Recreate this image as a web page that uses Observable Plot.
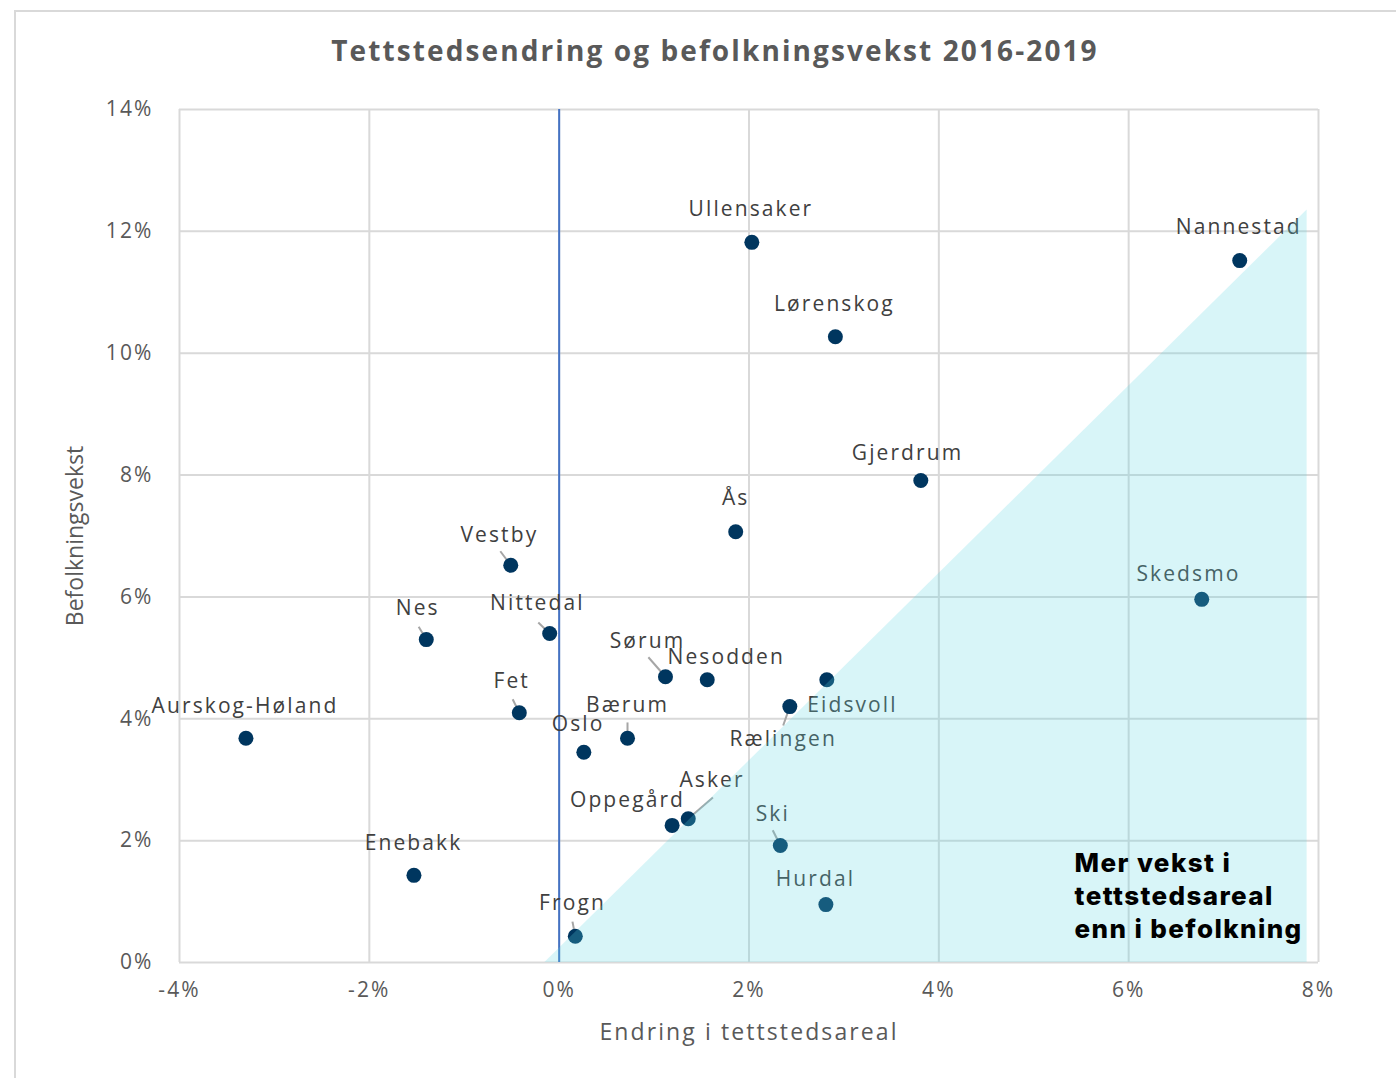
<!DOCTYPE html>
<html>
<head>
<meta charset="utf-8">
<script src="https://cdn.jsdelivr.net/npm/d3@7"></script>
<script src="https://cdn.jsdelivr.net/npm/@observablehq/plot@0.6"></script>
<style>
  html, body { margin: 0; padding: 0; background: #fff; overflow: hidden; width: 1396px; height: 1078px; }
  body { position: relative; font-family: "Open Sans", sans-serif; }
  #frame { position: absolute; left: 14px; top: 10px; width: 1500px; height: 1200px; border: 2px solid #d9d9d9; box-sizing: border-box; }
  #title { position: absolute; left: 0; width: 1430px; top: 32px; text-align: center; font-size: 28px; font-weight: 700; color: #595959; line-height: 36px; letter-spacing: 2.1px; }
  #chart { position: absolute; left: 0; top: 80px; }
  #chart svg text { letter-spacing: 2.1px; }
  #chart svg g[font-family^="Inter"] text { letter-spacing: 1.4px; }
  #chart svg text[transform*="rotate"], #chart svg g[transform*="rotate"] text { letter-spacing: 0px; }
</style>
</head>
<body>
<div id="frame"></div>
<div id="title">Tettstedsendring og befolkningsvekst 2016-2019</div>
<div id="chart"></div>
<script>
// Municipalities
const names = ["Ullensaker","Nannestad","Lørenskog","Gjerdrum","Ås","Skedsmo","Vestby","Nes","Nittedal","Sørum","Nesodden","Eidsvoll","Rælingen","Fet","Aurskog-Høland","Bærum","Oslo","Asker","Oppegård","Ski","Enebakk","Hurdal","Frogn"];
// Endring i tettstedsareal (%)
const endring = [2.03, 7.17, 2.91, 3.81, 1.86, 6.77, -0.51, -1.40, -0.10, 1.12, 1.56, 2.82, 2.43, -0.42, -3.30, 0.72, 0.26, 1.36, 1.19, 2.33, -1.53, 2.81, 0.17];
// Befolkningsvekst (%)
const vekst = [11.82, 11.52, 10.27, 7.91, 7.07, 5.96, 6.52, 5.30, 5.40, 4.69, 4.64, 4.64, 4.20, 4.10, 3.68, 3.68, 3.45, 2.36, 2.25, 1.92, 1.43, 0.95, 0.43];
// Label anchor positions in data units
const labelX = [2.02, 7.16, 2.90, 3.67, 1.86, 6.63, -0.63, -1.49, -0.23, 0.93, 1.76, 3.09, 2.36, -0.50, -3.31, 0.72, 0.20, 1.61, 0.72, 2.25, -1.535, 2.70, 0.14];
const labelY = [12.36, 12.06, 10.80, 8.35, 7.62, 6.37, 7.02, 5.81, 5.89, 5.28, 5.01, 4.23, 3.66, 4.61, 4.20, 4.22, 3.91, 2.99, 2.66, 2.43, 1.95, 1.36, 0.97];
// Leader lines (start of line near the label, data units)
const leaderNames = ["Vestby","Nes","Nittedal","Sørum","Rælingen","Fet","Bærum","Asker","Ski","Frogn"];
const leaderX = [-0.62, -1.48, -0.22, 0.94, 2.36, -0.49, 0.72, 1.62, 2.25, 0.14];
const leaderY = [6.75, 5.51, 5.58, 5.01, 3.89, 4.32, 3.94, 2.71, 2.17, 0.67];
// Shaded region (more growth in area than population)
const shadeX = [-0.15, 7.88];
const shadeY = [0, 12.35];
// Ticks
const xTicks = [-4, -2, 0, 2, 4, 6, 8];
const yTicks = [0, 2, 4, 6, 8, 10, 12, 14];
const noteText = "Mer vekst i\ntettstedsareal\nenn i befolkning";
const noteX = 5.43, noteY = 1.88;

const points = names.map((n, i) => ({name: n, x: endring[i], y: vekst[i], lx: labelX[i], ly: labelY[i]}));
const leaders = leaderNames.map((n, i) => {
  const p = points.find(d => d.name === n);
  return {name: n, x1: leaderX[i], y1: leaderY[i], x2: p.x, y2: p.y};
});
const shade = shadeX.map((x, i) => ({x, y: shadeY[i]}));

const chart = Plot.plot({
  width: 1396,
  height: 998,
  marginLeft: 179,
  marginRight: 78,
  marginTop: 29,
  marginBottom: 116,
  style: {fontFamily: "Open Sans, sans-serif", background: "transparent", overflow: "visible"},
  x: {domain: [-4, 8]},
  y: {domain: [0, 14]},
  marks: [
    Plot.gridX(xTicks, {stroke: "#d9d9d9", strokeOpacity: 1, strokeWidth: 2}),
    Plot.gridY(yTicks, {stroke: "#d9d9d9", strokeOpacity: 1, strokeWidth: 2}),
    Plot.axisX(xTicks, {tickFormat: d => d + "%", tickSize: 0, tickPadding: 20, fontSize: 21, color: "#595959", label: null}),
    Plot.axisY(yTicks, {tickFormat: d => d + "%", tickSize: 0, tickPadding: 26, fontSize: 21, color: "#595959", label: null}),
    Plot.text(["Endring i tettstedsareal"], {frameAnchor: "bottom", dy: 77, textAnchor: "middle", fontSize: 23, fill: "#595959"}),
    Plot.text(["Befolkningsvekst"], {frameAnchor: "left", dx: -104, rotate: -90, textAnchor: "middle", fontSize: 23, fill: "#595959"}),
    Plot.ruleX([0], {stroke: "#4472c4", strokeWidth: 2}),
    Plot.link(leaders, {x1: "x1", y1: "y1", x2: "x2", y2: "y2", stroke: "#a6a6a6", strokeWidth: 2}),
    Plot.dot(points, {x: "x", y: "y", r: 7.5, fill: "#00365f", stroke: "none"}),
    Plot.text(points, {x: "lx", y: "ly", text: "name", fontSize: 21, fill: "#404040"}),
    Plot.areaY(shade, {x: "x", y: "y", fill: "#5ed6e2", fillOpacity: 0.24}),
    Plot.text([noteText], {x: noteX, y: noteY, textAnchor: "start", lineAnchor: "top", lineHeight: 1.28, fontSize: 26, fontWeight: 800, fill: "#000", fontFamily: "Inter, sans-serif"})
  ]
});
document.getElementById("chart").appendChild(chart);
</script>
</body>
</html>
